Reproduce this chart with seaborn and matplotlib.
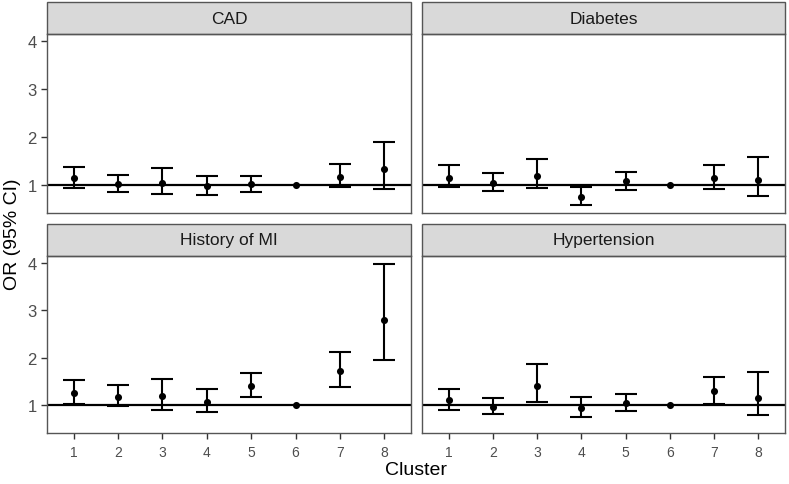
import numpy as np
import pandas as pd
import seaborn as sns
import matplotlib.pyplot as plt
from matplotlib.patches import Rectangle

# Odds ratios (95% CI) per cluster, cluster 6 is the reference
clusters = [1, 2, 3, 4, 5, 6, 7, 8]
outcomes = ["CAD", "Diabetes", "History of MI", "Hypertension"]

cad_or = [1.14, 1.02, 1.04, 0.97, 1.01, 1.00, 1.16, 1.32]
cad_lo = [0.93, 0.85, 0.80, 0.78, 0.85, 1.00, 0.95, 0.91]
cad_hi = [1.37, 1.21, 1.35, 1.19, 1.19, 1.00, 1.44, 1.90]

dia_or = [1.15, 1.04, 1.19, 0.74, 1.08, 1.00, 1.15, 1.10]
dia_lo = [0.95, 0.86, 0.93, 0.58, 0.90, 1.00, 0.92, 0.76]
dia_hi = [1.41, 1.24, 1.54, 0.95, 1.27, 1.00, 1.42, 1.58]

mi_or = [1.25, 1.18, 1.19, 1.07, 1.41, 1.00, 1.71, 2.80]
mi_lo = [1.02, 0.98, 0.90, 0.85, 1.18, 1.00, 1.38, 1.95]
mi_hi = [1.53, 1.42, 1.56, 1.35, 1.68, 1.00, 2.12, 3.98]

htn_or = [1.11, 0.96, 1.40, 0.94, 1.05, 1.00, 1.29, 1.15]
htn_lo = [0.90, 0.82, 1.06, 0.75, 0.87, 1.00, 1.03, 0.78]
htn_hi = [1.34, 1.15, 1.86, 1.17, 1.23, 1.00, 1.59, 1.69]

df = pd.concat([
    pd.DataFrame({"outcome": name, "cluster": clusters, "OR": o, "lo": l, "hi": h})
    for name, o, l, h in zip(outcomes,
                             [cad_or, dia_or, mi_or, htn_or],
                             [cad_lo, dia_lo, mi_lo, htn_lo],
                             [cad_hi, dia_hi, mi_hi, htn_hi])
])

sns.set_theme(style="white")
plt.rcParams["font.family"] = ["Liberation Sans", "DejaVu Sans"]


def draw_or(data, **kws):
    ax = plt.gca()
    ax.axhline(1, color="black", lw=1.6, zorder=1)
    bars = data[data["lo"] != data["hi"]]
    ax.errorbar(bars["cluster"], bars["OR"],
                yerr=[bars["OR"] - bars["lo"], bars["hi"] - bars["OR"]],
                fmt="none", ecolor="black", elinewidth=1.5, capsize=8, capthick=1.5, zorder=2)
    sns.scatterplot(data=data, x="cluster", y="OR", color="black", s=26,
                    edgecolor="black", linewidth=0, ax=ax, zorder=3)


g = sns.FacetGrid(df, col="outcome", col_wrap=2, col_order=outcomes,
                  sharex=True, sharey=True, height=2.4, aspect=1.6)
g.map_dataframe(draw_or)
g.figure.set_size_inches(7.89, 4.85)

W, H = 789, 485
# panel boxes in pixels: (left, top, right, bottom)
boxes = [(47, 35, 411, 214), (422, 35, 785, 214),
         (47, 257, 411, 434), (422, 257, 785, 434)]
strip_h = 32

for ax, name, (l, t, r, b) in zip(g.axes.flat, outcomes, boxes):
    ax.set_position([l / W, (H - b) / H, (r - l) / W, (b - t) / H])
    ax.set_xlim(0.4, 8.6)
    ax.set_ylim(0.41, 4.15)
    ax.set_title("")
    ax.set_xlabel("")
    ax.set_ylabel("")
    ax.set_xticks(clusters)
    ax.set_yticks([1, 2, 3, 4])
    for s in ax.spines.values():
        s.set_color("#555555")
        s.set_linewidth(1.0)
        s.set_visible(True)
    ax.tick_params(axis="both", length=4, width=1, color="#333333",
                   labelcolor="#4d4d4d", labelsize=12, bottom=True, left=True)
    ax.tick_params(axis="x", pad=5, labelsize=10)
    # strip on top of each panel
    frac = strip_h / (b - t)
    ax.add_patch(Rectangle((0, 1), 1, frac, transform=ax.transAxes, clip_on=False,
                           facecolor="#d9d9d9", edgecolor="#555555", lw=1.0))
    ax.text(0.5, 1 + frac / 2, name, transform=ax.transAxes, ha="center", va="center",
            fontsize=12.5, color="#1a1a1a")

for ax in g.axes.flat[[1, 3]]:
    ax.tick_params(axis="y", left=False, labelleft=False)
for ax in g.axes.flat[[0, 1]]:
    ax.tick_params(axis="x", bottom=False, labelbottom=False)

g.figure.text(416 / W, (H - 471) / H, "Cluster", ha="center", va="center", fontsize=14, color="black")
g.figure.text(13 / W, (H - 234) / H, "OR (95% CI)", ha="center", va="center", rotation=90,
              fontsize=14, color="black")

g.figure.savefig("out.png", dpi=100)
